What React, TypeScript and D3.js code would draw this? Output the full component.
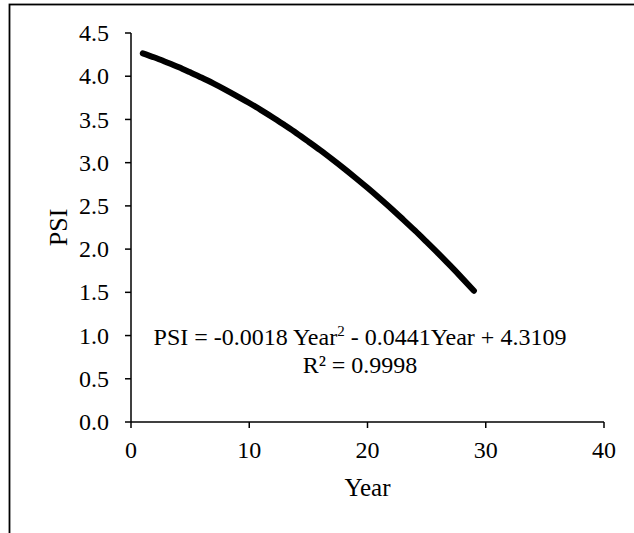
import React from 'react';
import { scaleLinear, line, curveMonotoneX } from 'd3';

// PSI, one value per year
const years = [1, 2, 3, 4, 5, 6, 7, 8, 9, 10, 11, 12, 13, 14, 15, 16, 17, 18, 19, 20, 21, 22, 23, 24, 25, 26, 27, 28, 29];
const psi = [4.265, 4.216, 4.162, 4.106, 4.045, 3.982, 3.914, 3.843, 3.768, 3.690, 3.608, 3.523, 3.433, 3.341, 3.244, 3.145, 3.041, 2.934, 2.823, 2.709, 2.591, 2.470, 2.344, 2.216, 2.083, 1.948, 1.808, 1.665, 1.518];

const xTicks = [0, 10, 20, 30, 40];
const yTicks = [0, 0.5, 1, 1.5, 2, 2.5, 3, 3.5, 4, 4.5];

const equation = 'PSI = -0.0018 Year';
const equationRest = ' - 0.0441Year + 4.3109';
const rSquared = 'R² = 0.9998';

const W = 634;
const H = 533;
const font = '"Liberation Serif", "Times New Roman", serif';

export default function App() {
  const x = scaleLinear().domain([0, 40]).range([131, 604]);
  const y = scaleLinear().domain([0, 4.5]).range([422, 33]);

  const points = years.map((yr, i) => [yr, psi[i]] as [number, number]);
  const path = line<[number, number]>()
    .x(d => x(d[0]))
    .y(d => y(d[1]))
    .curve(curveMonotoneX)(points);

  return (
    <svg width={W} height={H} style={{ position: 'absolute', left: 0, top: 0 }} fontFamily={font}>
      <rect x={0} y={0} width={W} height={H} fill="#fff" />
      {/* chart area frame, cut off at right and bottom */}
      <rect x={9.5} y={4.5} width={W + 20} height={H + 20} fill="none" stroke="#000" strokeWidth={1.8} />

      {/* axes */}
      <line x1={x(0)} x2={x(40)} y1={y(0)} y2={y(0)} stroke="#000" strokeWidth={1.5} />
      <line x1={x(0)} x2={x(0)} y1={y(0)} y2={y(4.5)} stroke="#000" strokeWidth={1.5} />

      {yTicks.map(t => (
        <g key={'y' + t}>
          <line x1={x(0) - 6} x2={x(0)} y1={y(t)} y2={y(t)} stroke="#000" strokeWidth={1.5} />
          <text x={109} y={y(t)} dy="0.34em" textAnchor="end" fontSize={24}>
            {t.toFixed(1)}
          </text>
        </g>
      ))}

      {xTicks.map(t => (
        <g key={'x' + t}>
          <line x1={x(t)} x2={x(t)} y1={y(0)} y2={y(0) + 6} stroke="#000" strokeWidth={1.5} />
          <text x={x(t)} y={458} textAnchor="middle" fontSize={24}>
            {t}
          </text>
        </g>
      ))}

      <text x={(x(0) + x(40)) / 2} y={496} textAnchor="middle" fontSize={25}>Year</text>
      <text
        transform={`translate(67,${(y(0) + y(4.5)) / 2}) rotate(-90)`}
        textAnchor="middle"
        fontSize={26}
      >
        PSI
      </text>

      <path d={path ?? ''} fill="none" stroke="#000" strokeWidth={6} strokeLinecap="round" strokeLinejoin="round" />

      <text x={360} y={345} textAnchor="middle" fontSize={24}>
        {equation}
        <tspan fontSize={15} dy={-9}>2</tspan>
        <tspan dy={9}>{equationRest}</tspan>
      </text>
      <text x={360} y={373} textAnchor="middle" fontSize={24}>{rSquared}</text>
    </svg>
  );
}
